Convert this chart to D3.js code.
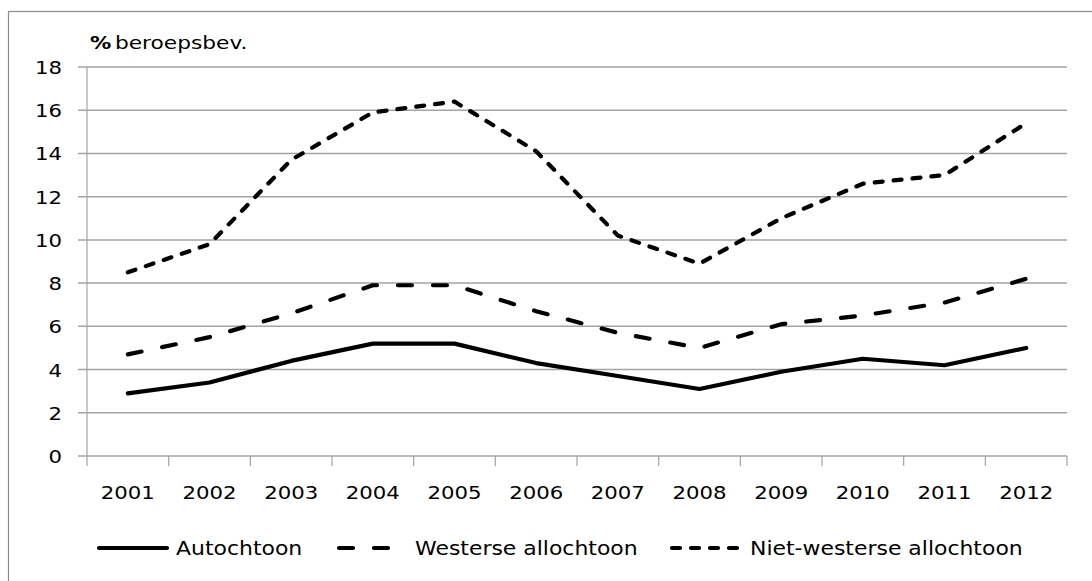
<!DOCTYPE html>
<html>
<head>
<meta charset="utf-8">
<script src="https://cdn.jsdelivr.net/npm/d3@7"></script>
<style>
  body { margin: 0; background: #fff; }
  svg { display: block; }
  text { font-family: "DejaVu Sans", sans-serif; fill: #000; }
</style>
</head>
<body>
<svg id="chart" width="1092" height="581"></svg>
<script>
// Data
const years = ['2001', '2002', '2003', '2004', '2005', '2006', '2007', '2008', '2009', '2010', '2011', '2012'];
const autochtoon = [2.9, 3.4, 4.4, 5.2, 5.2, 4.3, 3.7, 3.1, 3.9, 4.5, 4.2, 5.0];
const westers = [4.7, 5.5, 6.6, 7.9, 7.9, 6.7, 5.7, 5.0, 6.1, 6.5, 7.1, 8.2];
const nietWesters = [8.5, 9.8, 13.7, 15.9, 16.4, 14.1, 10.2, 8.9, 11.0, 12.6, 13.0, 15.4];
const yTicks = [0, 2, 4, 6, 8, 10, 12, 14, 16, 18];

const series = [
    { name: 'Autochtoon', values: autochtoon, dash: null },
    { name: 'Westerse allochtoon', values: westers, dash: '14,21' },
    { name: 'Niet-westerse allochtoon', values: nietWesters, dash: '8,11' }
];

const svg = d3.select('#chart');
const sx = 1.18; // horizontal stretch of the text in the original

// Outer frame (right and bottom edges fall outside the picture)
svg.append('rect')
    .attr('x', 8.5).attr('y', 11.5)
    .attr('width', 1200).attr('height', 700)
    .attr('fill', 'none')
    .attr('stroke', '#8c8c8c')
    .attr('stroke-width', 1.2);

const plotLeft = 87, plotRight = 1067, plotTop = 67, plotBottom = 456;

const x = d3.scaleBand().domain(years).range([plotLeft, plotRight]);
const y = d3.scaleLinear().domain([0, 18]).range([plotBottom, plotTop]);

const stretchedText = (g, px, py, str, anchor, size, weight) => {
    const t = g.append('g')
        .attr('transform', `translate(${px},${py}) scale(${sx},1)`)
        .append('text')
        .attr('text-anchor', anchor)
        .style('font-size', size + 'px')
        .text(str);
    if (weight) t.style('font-weight', weight);
    return t;
};

// Gridlines
svg.append('g')
    .selectAll('line')
    .data(yTicks)
    .join('line')
    .attr('x1', plotLeft - 9)
    .attr('x2', plotRight)
    .attr('y1', d => y(d))
    .attr('y2', d => y(d))
    .attr('stroke', '#a3a3a3')
    .attr('stroke-width', 1.5);

// Y axis line
svg.append('line')
    .attr('x1', plotLeft).attr('x2', plotLeft)
    .attr('y1', plotTop).attr('y2', plotBottom)
    .attr('stroke', '#a3a3a3')
    .attr('stroke-width', 1.2);

// X tick marks at band edges
const edges = years.map(d => x(d)).concat([plotRight]);
svg.append('g')
    .selectAll('line')
    .data(edges)
    .join('line')
    .attr('x1', d => d).attr('x2', d => d)
    .attr('y1', plotBottom).attr('y2', plotBottom + 10)
    .attr('stroke', '#a3a3a3')
    .attr('stroke-width', 1.2);

// Y tick labels
const yLab = svg.append('g');
yTicks.forEach(t => stretchedText(yLab, 62, y(t) + 7, String(t), 'end', 18));

// X tick labels
const xLab = svg.append('g');
years.forEach(yr => stretchedText(xLab, x(yr) + x.bandwidth() / 2, 499, yr, 'middle', 18));

// Axis title
const title = svg.append('g');
stretchedText(title, 90, 49, '%', 'start', 18, 'bold');
stretchedText(title, 115, 49, 'beroepsbev.', 'start', 18.4);

// Lines
const line = d3.line()
    .x((d, i) => x(years[i]) + x.bandwidth() / 2)
    .y(d => y(d));

svg.append('g')
    .selectAll('path')
    .data(series)
    .join('path')
    .attr('d', d => line(d.values))
    .attr('fill', 'none')
    .attr('stroke', '#000')
    .attr('stroke-width', 4.2)
    .attr('stroke-linecap', 'round')
    .attr('stroke-linejoin', 'round')
    .attr('stroke-dasharray', d => d.dash);

// Legend
const legendY = 548;
const legendItems = [
    { s: series[0], x1: 99, x2: 167, tx: 176 },
    { s: series[1], x1: 339, x2: 392, tx: 415 },
    { s: series[2], x1: 672, x2: 743, tx: 750 }
];
const legend = svg.append('g');
legendItems.forEach(it => {
    legend.append('line')
        .attr('x1', it.x1).attr('x2', it.x2)
        .attr('y1', legendY).attr('y2', legendY)
        .attr('stroke', '#000')
        .attr('stroke-width', 4.2)
        .attr('stroke-linecap', 'round')
        .attr('stroke-dasharray', it.s.dash);
    stretchedText(legend, it.tx, legendY + 7, it.s.name, 'start', 18.6);
});
</script>
</body>
</html>
